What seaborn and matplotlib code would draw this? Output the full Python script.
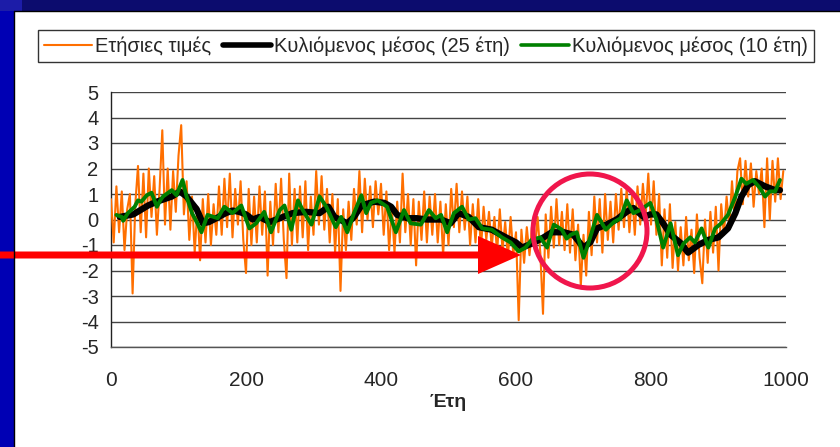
import numpy as np
import pandas as pd
import matplotlib
matplotlib.use("Agg")
import matplotlib.pyplot as plt
import seaborn as sns
from matplotlib.patches import Rectangle, Circle, FancyArrow
from matplotlib.lines import Line2D

# ---------------- data ----------------
annual_years = list(range(0, 1000, 4))
annual_values = [
    0.8, -0.9, 1.3, -0.5, 1.1, -1.2, 0.4, 1.0, -2.9, 0.6,
    2.1, -0.5, 1.8, -0.7, 2.0, 0.1, 1.7, -0.6, 1.2, 3.5,
    -0.2, 2.0, -0.4, 1.9, 0.3, 2.5, 3.7, 0.2, 1.5, -0.8,
    0.9, -1.3, 0.5, -1.6, 0.8, -0.9, 1.0, -1.0, 0.6, -0.6,
    1.3, -0.6, 1.6, -0.3, 1.8, -0.7, 1.2, -0.2, 1.5, -0.8,
    -2.1, 1.2, -1.0, 0.9, -0.9, 1.3, -0.6, 1.1, -2.2, 0.7,
    -1.0, 1.4, -0.5, 1.6, -0.8, -2.3, 1.8, -1.0, 1.2, -0.9,
    1.3, -0.7, 1.5, -1.2, 0.9, -0.6, 1.9, -0.2, 1.7, -0.4,
    1.2, -0.9, 1.0, -1.3, 0.8, -2.8, 0.4, -1.2, 0.7, -0.8,
    1.2, -0.2, 1.9, -0.5, 1.6, 0.0, 1.3, -0.3, 1.5, 0.2,
    1.4, -0.6, 1.1, -1.2, 0.5, -1.3, 0.7, -0.9, 1.8, -0.5,
    1.0, -1.0, 0.8, -1.8, 0.7, -0.8, 1.1, -0.9, 0.9, -0.6,
    1.0, -0.9, 0.7, -1.4, 0.6, -1.0, 1.2, -0.3, 1.4, -0.5,
    1.1, -0.4, 0.9, -1.0, 0.6, -0.9, 0.8, -1.2, 0.5, -0.8,
    0.3, -1.1, 0.1, -1.3, 0.4, -1.2, -0.1, -1.5, 0.1, -1.4,
    -0.5, -3.95, -0.4, -1.7, -0.3, -1.4, -0.2, -1.2, 0.1, -1.3,
    -3.7, 0.2, -1.5, 0.5, -1.1, 0.8, -1.0, 0.3, -1.2, 0.6,
    -1.3, 0.4, -1.6, -0.2, -2.6, -0.6, -2.2, 0.3, -1.4, 0.9,
    -0.9, 0.8, -1.3, 1.0, -0.8, 0.7, -0.9, 1.0, -0.4, 1.2,
    -0.3, 1.2, -0.5, 1.0, -0.6, 1.3, -0.2, 1.4, 0.1, 1.8,
    -0.2, 1.5, -0.6, 1.0, -1.8, 0.4, -1.5, 0.6, -1.9, -0.1,
    -2.0, -0.3, -1.8, 0.1, -1.6, -0.4, -2.1, 0.2, -1.5, -2.5,
    0.0, -1.7, 0.3, -1.3, 0.5, -2.0, 0.6, -0.6, 0.9, -0.3,
    1.5, 0.0, 1.9, 2.4, 0.6, 2.3, 0.9, 2.2, 0.5, 1.9,
    1.0, 2.0, -0.3, 2.4, 0.0, 2.3, 0.7, 2.4, 0.8, 1.9,
]

ma10_years = [8, 16, 18, 25, 35, 40, 45, 53, 60, 68, 73, 77, 90, 97, 106, 112, 120, 128, 134, 143,
              158, 168, 180, 193, 205, 215, 227, 237, 250, 257, 267, 277, 284, 297, 309, 319, 333, 341,
              350, 360, 371, 378, 385, 395, 409, 422, 434, 444, 459, 471, 481, 489, 498, 508, 520, 530,
              540, 550, 564, 579, 592, 604, 614, 623, 636, 646, 656, 668, 675, 681, 690, 700, 707, 720,
              733, 745, 755, 764, 774, 784, 799, 808, 818, 829, 840, 848, 858, 865, 875, 885, 895, 904,
              914, 925, 934, 941, 951, 961, 969, 976, 984, 991]
ma10_values = [0.18, 0.1, -0.05, 0.25, 0.5, 0.75, 0.7, 0.95, 1.05, 0.5, 0.75, 0.9, 1.15, 0.95, 1.55, 0.9,
               0.25, -0.15, -0.5, 0.18, 0.05, 0.5, 0.25, 0.55, -0.35, -0.15, 0.3, -0.5, 0.37, 0.55, -0.4,
               0.75, 0.37, -0.2, 0.9, 0.5, -0.3, 0.1, -0.5, 0.25, 0.95, 0.25, 0.65, 0.75, 0.5, -0.5, 0.37,
               -0.15, -0.2, 0.37, 0.05, 0.18, -0.5, 0.25, 0.5, 0.0, 0.05, -0.35, -0.4, -0.7, -0.9, -1.25,
               -1.1, -0.8, -0.7, -1.1, -0.2, -0.4, -0.75, -0.6, -0.5, -1.5, -0.95, 0.18, -0.4, -0.1, 0.05,
               0.75, 0.25, 0.37, 0.65, 0.0, -1.1, -0.15, -1.4, -0.95, -0.7, -0.9, -0.35, -1.1, -0.35, -0.15,
               0.18, 0.9, 1.6, 1.4, 1.55, 1.25, 0.9, 1.1, 1.1, 1.55]

ma25_years = [13, 33, 55, 68, 90, 102, 112, 127, 136, 145, 156, 170, 180, 190, 200, 210, 220, 235, 250,
              269, 289, 309, 322, 331, 350, 360, 371, 390, 405, 415, 424, 439, 453, 468, 489, 503, 515,
              530, 545, 564, 585, 600, 609, 623, 638, 653, 671, 685, 700, 710, 720, 734, 749, 764, 774,
              789, 799, 808, 818, 829, 843, 855, 870, 885, 900, 914, 925, 934, 944, 954, 969, 984, 991]
ma25_values = [0.1, 0.2, 0.55, 0.7, 0.9, 1.1, 0.9, 0.4, -0.15, -0.1, 0.05, 0.25, 0.35, 0.3, 0.2, 0.0, 0.1,
               -0.1, 0.05, 0.25, 0.3, 0.25, 0.5, 0.1, -0.15, 0.1, 0.55, 0.7, 0.65, 0.5, 0.18, 0.05, 0.05,
               0.0, 0.0, -0.15, 0.25, 0.1, -0.3, -0.4, -0.7, -0.9, -1.1, -0.95, -0.75, -0.5, -0.5, -0.6,
               -1.1, -0.9, -0.35, -0.2, 0.0, 0.3, 0.45, 0.1, 0.2, 0.2, -0.15, -0.6, -0.9, -1.3, -1.0, -0.8,
               -0.7, -0.35, 0.25, 0.9, 1.35, 1.5, 1.3, 1.15, 1.15]

labels = ["Ετήσιες τιμές", "Κυλιόμενος μέσος (25 έτη)", "Κυλιόμενος μέσος (10 έτη)"]
x_ticks = [0, 200, 400, 600, 800, 1000]
y_ticks = [-5, -4, -3, -2, -1, 0, 1, 2, 3, 4, 5]
x_label = "Έτη"

# ---------------- style ----------------
sns.set_style("white")
plt.rcParams["font.family"] = ["Liberation Sans", "DejaVu Sans"]

W, H = 840, 447
fig = plt.figure(figsize=(W / 100, H / 100), dpi=100)
fig.patch.set_facecolor("white")

ax = fig.add_axes([111 / W, 1 - 347 / H, (786 - 111) / W, (347 - 92) / H])

c_orange = "#ff6f00"
c_green = "#008000"

df_a = pd.DataFrame({"x": annual_years, "y": annual_values})
df_25 = pd.DataFrame({"x": ma25_years, "y": ma25_values})
df_10 = pd.DataFrame({"x": ma10_years, "y": ma10_values})

sns.lineplot(data=df_a, x="x", y="y", ax=ax, color=c_orange, lw=1.5, estimator=None, sort=False, zorder=3)
sns.lineplot(data=df_25, x="x", y="y", ax=ax, color="black", lw=4.6, estimator=None, sort=False, zorder=4)
sns.lineplot(data=df_10, x="x", y="y", ax=ax, color=c_green, lw=2.8, estimator=None, sort=False, zorder=5)

ax.set_xlim(0, 1000)
ax.set_ylim(-5, 5)
ax.set_xticks(x_ticks)
ax.set_yticks(y_ticks)
ax.set_xticklabels([str(v) for v in x_ticks], fontsize=15)
ax.set_yticklabels([str(v) for v in y_ticks], fontsize=14.5)
ax.set_xlabel(x_label, fontsize=14, fontweight="bold", labelpad=3)
ax.set_ylabel("")
ax.tick_params(axis="both", direction="out", length=6, width=1, color="#444444", pad=3)
ax.tick_params(axis="x", pad=11)
for s in ["top", "right"]:
    ax.spines[s].set_visible(False)
ax.spines["left"].set_color("#222222")
ax.spines["bottom"].set_color("#555555")
ax.spines["left"].set_linewidth(1)
ax.spines["bottom"].set_linewidth(1)
ax.grid(axis="y", color="#444444", lw=1)
ax.grid(axis="x", visible=False)
ax.set_axisbelow(True)

handles = [Line2D([], [], color=c_orange, lw=1.5),
           Line2D([], [], color="black", lw=4),
           Line2D([], [], color=c_green, lw=2.6)]
leg = ax.legend(handles, labels, loc="center", ncol=3, bbox_to_anchor=(426 / W, 1 - 46 / H),
                bbox_transform=fig.transFigure, frameon=True, fancybox=False, fontsize=14.5,
                handlelength=2.4, handletextpad=0.15, columnspacing=0.55, borderpad=0.3,
                borderaxespad=0)
leg.get_frame().set_edgecolor("black")
leg.get_frame().set_linewidth(1)

# ---------------- overlay: slide border and annotations ----------------
ov = fig.add_axes([0, 0, 1, 1], zorder=10)
ov.set_xlim(0, W)
ov.set_ylim(H, 0)
ov.axis("off")
ov.patch.set_alpha(0)

ov.add_patch(Rectangle((0, 0), 14, H, color="#0000b4", lw=0))
ov.add_patch(Rectangle((0, 0), W, 11, color="#0c0c6e", lw=0))
ov.add_patch(Rectangle((0, 0), 22, 11, color="#1c1ca8", lw=0))
ov.plot([14, 14], [11, H], color="black", lw=1)
ov.plot([14, W], [11, 11], color="black", lw=1)

ov.add_patch(FancyArrow(0, 255, 521, 0, width=7, head_width=38, head_length=43,
                        length_includes_head=True, color="#ff0000", lw=0))
ov.add_patch(Circle((590, 231), 57, fill=False, edgecolor="#f0164c", lw=3.6))

fig.savefig("out.png", dpi=100)
